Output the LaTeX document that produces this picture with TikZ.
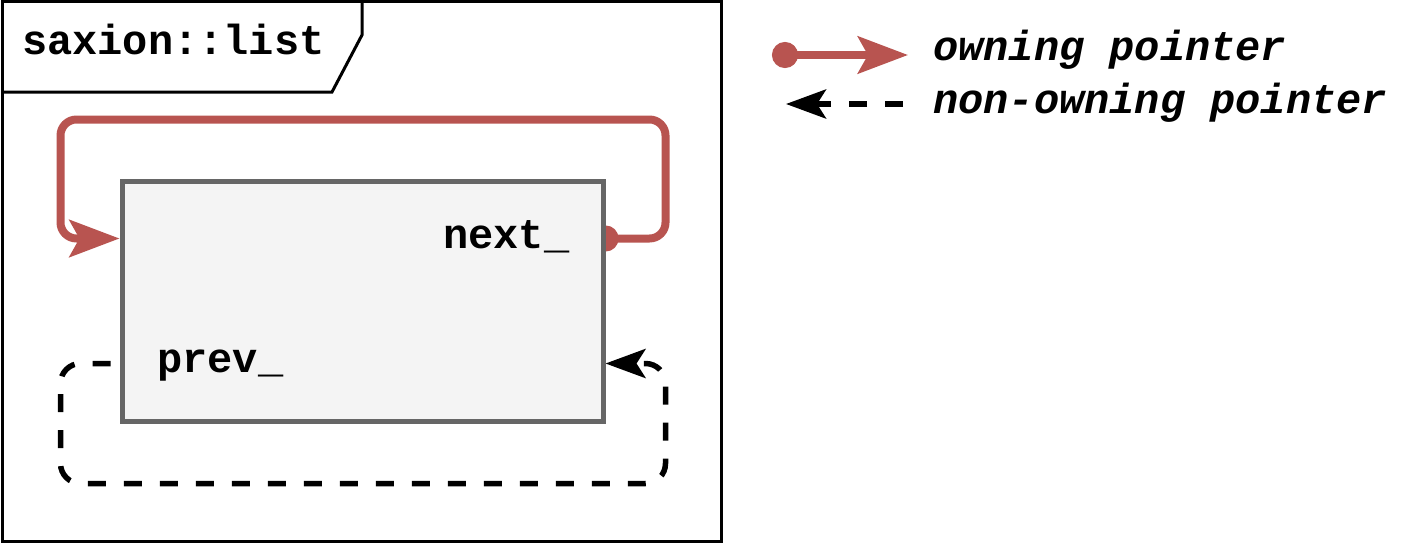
\documentclass[tikz,border=0pt]{standalone}
\usepackage{fontspec}
\setmonofont{Liberation Mono}
\usetikzlibrary{arrows.meta,backgrounds,calc}
\definecolor{owncol}{HTML}{B85450}
\definecolor{boxfill}{HTML}{F4F4F4}
\definecolor{boxline}{HTML}{666666}
\tikzset{
  code/.style={font=\fontsize{42}{48}\selectfont\ttfamily\bfseries, inner sep=0pt, anchor=base west},
  legend/.style={font=\fontsize{42}{48}\selectfont\ttfamily\bfseries\itshape, inner sep=0pt, anchor=base west},
  owning/.style={owncol, line width=8pt, rounded corners=16pt,
    {Circle[length=26pt]}-{Stealth[length=50pt,width=37pt,inset=10pt]}},
  nonowning/.style={black, line width=5.5pt, dash pattern=on 18pt off 18pt, rounded corners=20pt,
    -{Stealth[length=40pt,width=29pt,inset=9pt]}},
}
\begin{document}
\begin{tikzpicture}[x=1pt,y=-1pt]
  \useasboundingbox (0,0) rectangle (1416,543);
  % frame with its name tab
  \node (frame) [draw, line width=3pt, minimum width=719.5pt, minimum height=539pt, inner sep=0pt] at (361.75,271.5) {};
  \draw[line width=3pt] (362,2) -- (362,35) -- (332,92) -- (2,92);
  \node (title) [code] at (22,55) {saxion::list};
  % the list node
  \node (lst) [draw=boxline, fill=boxfill, line width=5pt, minimum width=481pt, minimum height=240pt, inner sep=0pt] at (362.5,301) {};
  \node (nxt) [code] at (443,248) {next\_};
  \node (prv) [code] at (157,372) {prev\_};
  \begin{scope}[on background layer]
    \draw[owning] ($(lst.north east)+(-13,60)$) -| ($(lst.north east)+(60,-59)$)
      -| ($(lst.north west)+(-59,60)$) -- ($(lst.north west)+(0,60)$);
    \draw[nonowning, dash phase=27pt] ($(lst.south west)+(0,-60)$) -| ($(lst.south west)+(-59,60)$)
      -| ($(lst.south east)+(60,-60)$) -- ($(lst.south east)+(0,-60)$);
  \end{scope}
  % legend
  \coordinate (ownA) at (772,55);
  \coordinate (ownB) at (908,55);
  \coordinate (nonA) at (903,104);
  \coordinate (nonB) at (786,104);
  \draw[owning] (ownA) -- (ownB);
  \draw[nonowning] (nonA) -- (nonB);
  \node (ownlbl) [legend] at (933,60) {owning pointer};
  \node (nonlbl) [legend] at (933,113) {non-owning pointer};
\end{tikzpicture}
\end{document}
